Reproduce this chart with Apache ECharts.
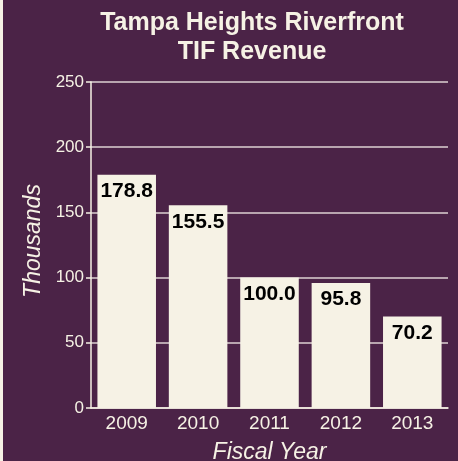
<!DOCTYPE html>
<html>
<head>
<meta charset="utf-8">
<script src="https://cdn.jsdelivr.net/npm/echarts@6/dist/echarts.min.js"></script>
<style>
  html, body { margin: 0; padding: 0; background: #4B2347; }
  #chart { width: 458px; height: 461px; }
</style>
</head>
<body>
<div id="chart"></div>
<script>
// Fiscal years and TIF revenue (thousands of dollars)
const years = ['2009', '2010', '2011', '2012', '2013'];
const revenue = [178.8, 155.5, 100.0, 95.8, 70.2];
const yTicks = { min: 0, max: 250, interval: 50 };

const purple = '#4B2347';
const cream = '#F6F2E5';
const font = 'Liberation Sans, Arial, sans-serif';

const chart = echarts.init(document.getElementById('chart'), null, { renderer: 'canvas' });
chart.setOption({
  backgroundColor: purple,
  animation: false,
  textStyle: { fontFamily: font },
  title: {
    text: 'Tampa Heights Riverfront\nTIF Revenue',
    left: 247,
    top: 4,
    textAlign: 'center',
    textStyle: { color: cream, fontSize: 25, fontWeight: 'bold', lineHeight: 29, fontFamily: font }
  },
  graphic: [{
    type: 'rect', left: 0, top: 0, shape: { width: 3, height: 461 },
    style: { fill: cream }, silent: true
  }],
  grid: { left: 91, right: 10, top: 82, bottom: 53, containLabel: false, outerBoundsMode: 'none' },
  xAxis: {
    type: 'category',
    data: years,
    name: 'Fiscal Year',
    nameLocation: 'middle',
    nameGap: 33,
    nameTextStyle: { color: cream, fontSize: 23, fontStyle: 'italic', fontFamily: font },
    axisLine: { show: true, lineStyle: { color: cream, width: 1.5 } },
    axisTick: { show: false },
    axisLabel: { color: cream, fontSize: 19, margin: 6, fontFamily: font }
  },
  yAxis: {
    type: 'value',
    min: yTicks.min,
    max: yTicks.max,
    interval: yTicks.interval,
    name: 'Thousands',
    nameLocation: 'middle',
    nameGap: 39,
    nameRotate: 90,
    nameTextStyle: { color: cream, fontSize: 23, fontStyle: 'italic', fontFamily: font, padding: [0, 0, 0, 8] },
    axisLine: { show: true, lineStyle: { color: cream, width: 1.5 } },
    axisTick: { show: true, length: 5, lineStyle: { color: cream, width: 1.5 } },
    axisLabel: { color: cream, fontSize: 17, margin: 7, fontFamily: font },
    splitLine: { show: true, lineStyle: { color: '#DCD2D2', width: 1.5 } }
  },
  series: [{
    type: 'bar',
    data: revenue,
    barWidth: '82%',
    itemStyle: { color: cream },
    label: {
      show: true,
      position: 'insideTop',
      distance: 6,
      color: '#000000',
      fontSize: 21,
      fontWeight: 'bold',
      fontFamily: font,
      formatter: p => p.value.toFixed(1)
    }
  }]
});
</script>
</body>
</html>
